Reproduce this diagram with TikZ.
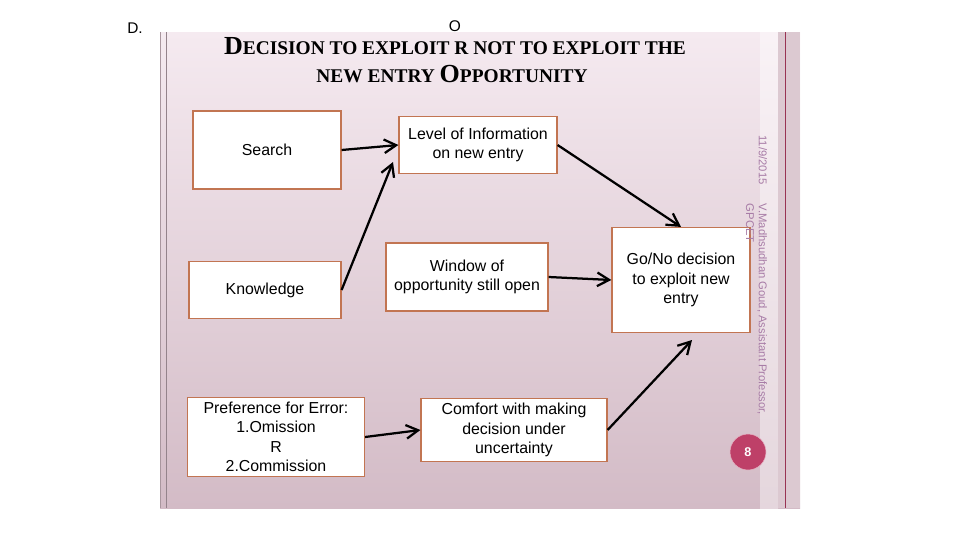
\documentclass[tikz,border=0pt]{standalone}
\usepackage{fontspec}
\setmainfont{Liberation Sans}
\newfontfamily\titlefont{Liberation Serif}
\usepackage{xcolor}
\usetikzlibrary{arrows.meta,positioning}
\definecolor{boxedge}{HTML}{C27552}
\definecolor{slidetop}{HTML}{F5EAF0}
\definecolor{slidebot}{HTML}{D3BBC6}
\definecolor{sidetext}{HTML}{A77BA6}
\definecolor{badge}{HTML}{BE4068}
\newcommand{\bigsc}[2]{{\fontsize{18.5}{20}\selectfont #1}{\fontsize{13.8}{20}\selectfont #2}}

\begin{document}
\begin{tikzpicture}[
  x=0.025cm,y=-0.025cm,
  box/.style={draw=boxedge,thick,fill=white,align=center,font=\fontsize{11.3}{13.8}\selectfont,inner sep=2pt},
  ar/.style={-{Straight Barb[length=3mm,width=3.4mm]},line width=1.6pt}
]
\useasboundingbox (0,0) rectangle (960,540);
% slide background
\shade[top color=slidetop,bottom color=slidebot] (160,32) rectangle (800,508);
\shade[top color=slidetop!60!white,bottom color=slidebot!60!white] (760,32) rectangle (778,508);
\fill[slidebot!80!white] (778,32) rectangle (800,508);
\draw[badge!80!black,line width=0.6pt] (785,32) -- (785,508);
\draw[slidebot!80!black,line width=0.5pt] (160,32) -- (160,508);
\draw[slidebot!70!black,line width=0.5pt] (166,32) -- (166,508);
\node[font=\fontsize{11}{13}\selectfont] (dmark) at (135,28) {D.};
\node[font=\fontsize{11}{13}\selectfont] (omark) at (455,26) {O};

% title
\node[font=\titlefont\bfseries] (title1) at (455,46) {\bigsc{D}{ECISION TO EXPLOIT R NOT TO EXPLOIT THE}};
\node[font=\titlefont\bfseries] (title2) at (452,74) {\bigsc{}{NEW ENTRY }\bigsc{O}{PPORTUNITY}};

% boxes
\node[box,minimum width=3.7cm,minimum height=1.95cm] (search) at (267,150) {Search};
\node[box,minimum width=3.95cm,minimum height=1.425cm] (level) at (478,145) {Level of Information\\on new entry};
\node[box,minimum width=3.8cm,minimum height=1.425cm] (know) at (265,290) {Knowledge};
\node[box,minimum width=4.05cm,minimum height=1.7cm] (window) at (467,277) {Window of\\opportunity still open};
\node[box,minimum width=3.45cm,minimum height=2.625cm] (gonogo) at (681,280) {Go/No decision\\to exploit new\\entry};
\node[box,minimum width=4.425cm,minimum height=1.975cm] (pref) at (276,437) {Preference for Error:\\1.Omission\\R\\2.Commission};
\node[box,minimum width=4.65cm,minimum height=1.575cm] (comfort) at (514,430) {Comfort with making\\decision under\\uncertainty};

\coordinate (levelin) at (393,162);
\coordinate (gonogoin) at (692,340);

% arrows
\draw[ar] (search.east) -- (level.west);
\draw[ar] (know.east) -- (levelin);
\draw[ar] (level.east) -- (gonogo.north);
\draw[ar] (window.east) -- (gonogo.west);
\draw[ar] (pref.east) -- (comfort.west);
\draw[ar] (comfort.east) -- (gonogoin);

% side notes
\node[rotate=-90,font=\fontsize{8}{9.5}\selectfont,text=sidetext] (date) at (763,160) {11/9/2015};
\node[rotate=-90,font=\fontsize{8}{9.5}\selectfont,text=sidetext,anchor=north west] (author) at (772,199) {V.Madhsudhan Goud, Assistant Professor,};
\node[rotate=-90,font=\fontsize{8}{9.5}\selectfont,text=sidetext,anchor=north west] (college) at (759,199) {GPCET};
\node[circle,fill=badge,draw=badge!40!white,minimum size=0.9cm,text=white,font=\bfseries\fontsize{9}{10}\selectfont] (page) at (748,452) {8};
\end{tikzpicture}
\end{document}
